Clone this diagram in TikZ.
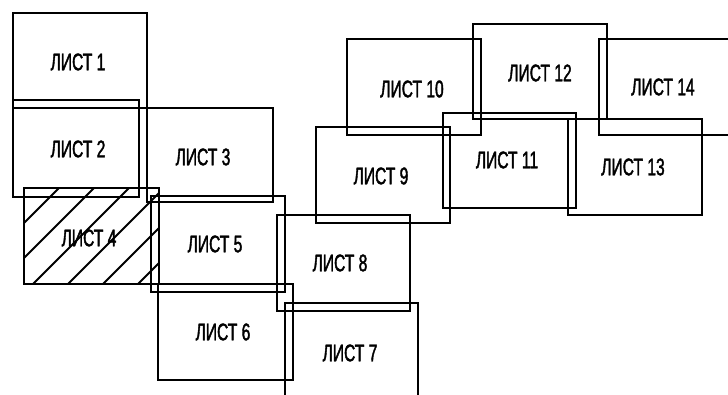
\documentclass[tikz,border=0pt]{standalone}
\usepackage{fontspec}
\setmainfont{Liberation Sans}[FakeStretch=0.65,FakeBold=1.6]
\begin{document}
\begin{tikzpicture}[x=1pt,y=-1pt,
  sheet/.style={draw=black,line width=2.3pt,inner sep=0pt,outer sep=0pt},
  lbl/.style={inner sep=0pt,font=\fontsize{24}{24}\selectfont},
  hatch/.style={line width=1.9pt}]
\useasboundingbox[fill=white] (0,0) rectangle (728,395);
\clip (0,0) rectangle (728,395);
% hatching of sheet 4
\begin{scope}
  \clip (24,188) rectangle (159,284);
  \foreach \c in {-37,-2,33,68,103,138}{
    \draw[hatch] (\c-20,304) -- (\c+120,164);
  }
\end{scope}
% sheets
\newcommand{\sheetbox}[5]{%
  \node[sheet,minimum width={#4-#2},minimum height={#5-#3}] (#1) at ({(#2+#4)/2},{(#3+#5)/2}) {};}
\sheetbox{s1}{13}{13}{147}{108}
\sheetbox{s2}{13}{100}{139}{197}
\sheetbox{s3}{147}{108}{273}{202}
\sheetbox{s4}{24}{188}{159}{284}
\sheetbox{s5}{151}{196}{285}{292}
\sheetbox{s6}{158}{284}{293}{380}
\sheetbox{s7}{285}{303}{418}{400}
\sheetbox{s8}{277}{215}{410}{311}
\sheetbox{s9}{316}{127}{450}{223}
\sheetbox{s10}{347}{39}{481}{135}
\sheetbox{s11}{443}{113}{576}{208}
\sheetbox{s12}{473}{24}{607}{119}
\sheetbox{s13}{568}{119}{702}{215}
\sheetbox{s14}{599}{39}{733}{135}
% labels
\node[lbl] (t1) at (78,62) {ЛИСТ 1};
\node[lbl] (t2) at (78,149) {ЛИСТ 2};
\node[lbl] (t3) at (203,157) {ЛИСТ 3};
\node[lbl] (t4) at (89,238) {ЛИСТ 4};
\node[lbl] (t5) at (215,244) {ЛИСТ 5};
\node[lbl] (t6) at (223,332) {ЛИСТ 6};
\node[lbl] (t7) at (350,353) {ЛИСТ 7};
\node[lbl] (t8) at (340,263) {ЛИСТ 8};
\node[lbl] (t9) at (381,176) {ЛИСТ 9};
\node[lbl] (t10) at (412,89) {ЛИСТ 10};
\node[lbl] (t11) at (507,160) {ЛИСТ 11};
\node[lbl] (t12) at (540,73) {ЛИСТ 12};
\node[lbl] (t13) at (633,167) {ЛИСТ 13};
\node[lbl] (t14) at (663,87) {ЛИСТ 14};
\end{tikzpicture}
\end{document}
